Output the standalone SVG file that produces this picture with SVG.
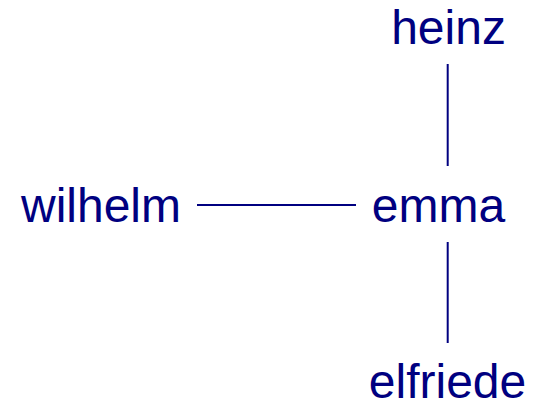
<svg xmlns="http://www.w3.org/2000/svg" width="533" height="402" viewBox="0 0 533 402">
<style>
text{font-family:"Liberation Sans",Arial,sans-serif;font-size:48px;fill:#000080;text-anchor:middle}
.e{stroke:#000080;stroke-width:2;fill:none}
</style>
<rect width="533" height="402" fill="#fff"/>
<g id="connectors">
<line class="e" x1="447.7" y1="64" x2="447.7" y2="166"/>
<line class="e" x1="197" y1="205" x2="356" y2="205"/>
<line class="e" x1="447.7" y1="242" x2="447.7" y2="343"/>
</g>
<g id="heinz"><text x="448.5" y="43.5">heinz</text></g>
<g id="wilhelm"><text x="101" y="222">wilhelm</text></g>
<g id="emma"><text x="438.5" y="222">emma</text></g>
<g id="elfriede"><text x="447.5" y="397.5">elfriede</text></g>
</svg>
